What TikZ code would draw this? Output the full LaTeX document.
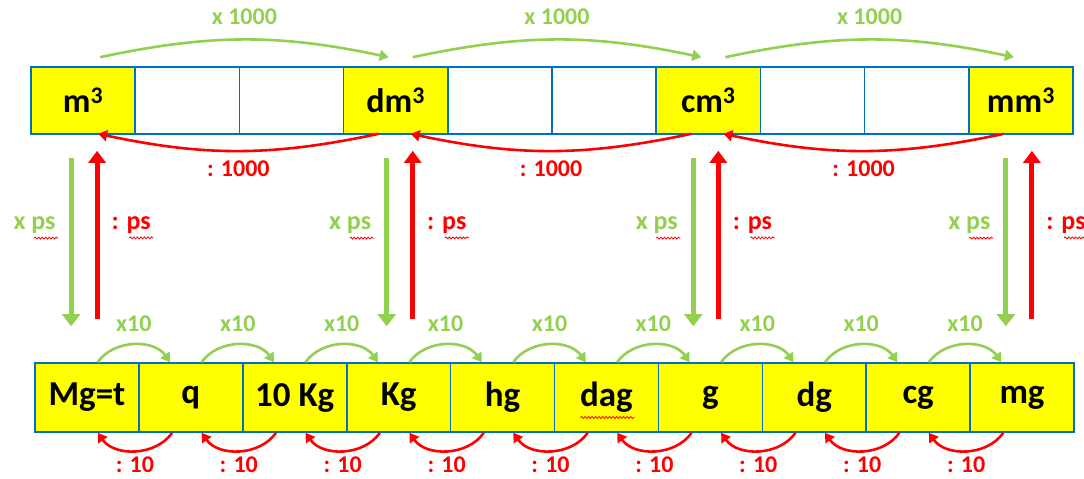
\documentclass[tikz,border=0pt]{standalone}
\usepackage{fontspec}
\setmainfont{Carlito}
\usetikzlibrary{calc, positioning, arrows.meta, decorations.pathmorphing}
\definecolor{cellyellow}{RGB}{255,255,0}
\definecolor{cellblue}{RGB}{0,112,192}
\definecolor{mulgreen}{RGB}{146,208,80}
\definecolor{divred}{RGB}{255,0,0}

\begin{document}
\begin{tikzpicture}[x=1pt, y=1pt,
    cell/.style={draw=cellblue, line width=1.6pt, inner sep=0pt, font=\fontsize{34}{38}\selectfont\bfseries},
    topcell/.style={cell, minimum width=104.2pt, minimum height=67pt},
    botcell/.style={cell, fill=cellyellow, minimum width=103.9pt, minimum height=69pt, font=\fontsize{35}{38}\selectfont\bfseries},
    garc/.style={mulgreen, line width=2.6pt, -{Triangle[width=11pt, length=9pt]}},
    rarc/.style={divred, line width=2.6pt, -{Triangle[width=11pt, length=9pt]}},
    gvert/.style={mulgreen, line width=5pt, -{Triangle[width=18pt, length=12pt]}},
    rvert/.style={divred, line width=5pt, -{Triangle[width=17pt, length=12pt]}},
    glabel/.style={text=mulgreen, inner sep=2pt, font=\fontsize{24}{28}\selectfont\bfseries},
    rlabel/.style={text=divred, inner sep=2pt, font=\fontsize{24}{28}\selectfont\bfseries},
    pslabel/.style={inner sep=2pt, font=\fontsize{26}{30}\selectfont\bfseries},
    spell/.style={divred, line width=0.8pt, decorate, decoration={snake, amplitude=1pt, segment length=3.5pt}}]
  \useasboundingbox (0,0) rectangle (1084,-479);

  % Volume units (top row)
  \foreach \i/\f/\u in {0/cellyellow/m\textsuperscript{3}, 1/white/, 2/white/, 3/cellyellow/dm\textsuperscript{3},
      4/white/, 5/white/, 6/cellyellow/cm\textsuperscript{3}, 7/white/, 8/white/, 9/cellyellow/mm\textsuperscript{3}}
    \node[topcell, fill=\f] (t\i) at ({83.1+104.2*\i}, -100.5) {\u};

  % Mass units (bottom row)
  \foreach \i/\u in {0/Mg=t, 1/q, 2/10 Kg, 3/Kg, 4/hg, 5/dag, 6/g, 7/dg, 8/cg, 9/mg}
    \node[botcell] (b\i) at ({86.95+103.9*\i}, -397.5) {\u};

  % x 1000 and : 1000 between volume units
  \foreach \a/\b in {0/3, 3/6, 6/9} {
    \draw[garc] ([xshift=17pt, yshift=9pt]t\a.north) to[bend left=12]
      node[midway, above=12pt, glabel] {x 1000} ([xshift=-7pt, yshift=9pt]t\b.north);
    \draw[rarc] ([xshift=-17pt, yshift=1pt]t\b.south) to[bend left=12]
      node[midway, below=7pt, rlabel] {: 1000} ([xshift=15pt, yshift=1pt]t\a.south);
  }

  % x ps and : ps between the two rows
  \foreach \c/\g/\r in {0/-12/14, 3/-9/17, 6/-15/10, 9/-15/11} {
    \draw[gvert] ($(t\c.south)+(\g,-23)$) -- ($(t\c.south |- b\c.north)+(\g,36)$)
      node[pos=0.4, left=11pt, pslabel, text=mulgreen] (xps\c) {x ps};
    \draw[rvert] ($(t\c.south |- b\c.north)+(\r,43)$) -- ($(t\c.south)+(\r,-16)$)
      node[pos=0.56, right=10pt, pslabel, text=divred] (dps\c) {: ps};
    \draw[spell] ([xshift=-26pt]xps\c.south east) -- ([xshift=-2pt]xps\c.south east);
    \draw[spell] ([xshift=-26pt]dps\c.south east) -- ([xshift=-2pt]dps\c.south east);
  }
  \draw[spell] ([xshift=-26pt, yshift=-20pt]b5.center) -- ([xshift=28pt, yshift=-20pt]b5.center);

  % x10 and : 10 between mass units
  \foreach \i [count=\j] in {0,...,8} {
    \draw[garc] ([xshift=-42pt]b\i.north east) to[out=55, in=125]
      node[midway, above=10pt, glabel] {x10} ([xshift=32pt]b\j.north west);
    \draw[rarc] ([xshift=34pt]b\j.south west) to[out=-125, in=-55]
      node[midway, below=3pt, rlabel] {: 10} ([xshift=-42pt]b\i.south east);
  }
\end{tikzpicture}
\end{document}
